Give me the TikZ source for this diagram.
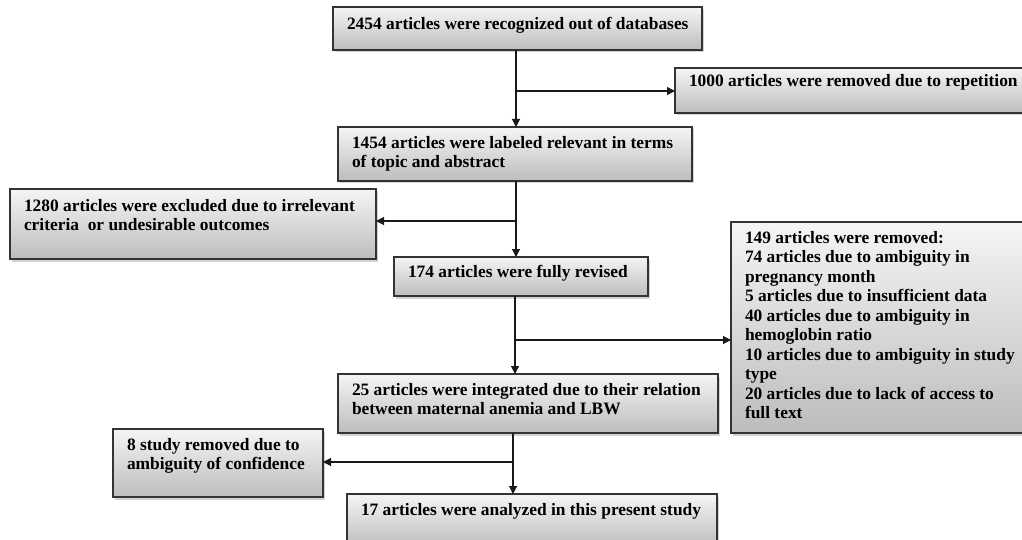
\documentclass[tikz,border=0pt]{standalone}
\usepackage{fontspec}
\setmainfont{Liberation Serif}
\usetikzlibrary{arrows.meta,shadows}
\tikzset{
  fbox/.style={draw=black!80, line width=1.3pt, top color=black!4, bottom color=black!26,
    drop shadow={opacity=0.35, shadow xshift=2pt, shadow yshift=-2.5pt},
    inner sep=0pt, outer sep=0pt, anchor=north west,
    font=\fontsize{17.4}{19.5}\selectfont\bfseries},
  conn/.style={draw=black!90, line width=1.1pt, -{Triangle[length=8pt,width=8pt]}}
}
\newcommand\flowbox[7]{%
  \node[fbox] (#1) at (#2,#3) {\parbox[c][\dimexpr#5pt-#3pt\relax][t]{\dimexpr#4pt-#2pt\relax}{%
    \leftskip=14pt\rightskip=0pt plus 1fil\parfillskip=0pt plus 1fil\relax
    \rule{0pt}{#6pt}#7}};}
\begin{document}
\begin{tikzpicture}[x=1pt,y=-1pt]
\useasboundingbox (0,0) rectangle (1022,540);
\flowbox{B1}{333}{7}{702}{50}{23}{2454 articles were recognized out of databases}
\flowbox{B2}{675}{68}{1032}{113}{19}{1000 articles were removed due to repetition}
\flowbox{B3}{338}{127}{692}{181}{21}{1454 articles were labeled relevant in terms\\of topic and abstract}
\flowbox{B4}{10}{189}{376}{259}{22}{1280 articles were excluded due to irrelevant\\criteria\ \ or undesirable outcomes}
\flowbox{B5}{394}{257}{648}{296}{20}{174 articles were fully revised}
\flowbox{B6}{731}{222}{1032}{433}{21}{149 articles were removed:\\74 articles due to ambiguity in\\pregnancy month\\5 articles due to insufficient data\\40 articles due to ambiguity in\\hemoglobin ratio\\10 articles due to ambiguity in study\\type\\20 articles due to lack of access to\\full text}
\flowbox{B7}{338}{374}{718}{433}{21}{25 articles were integrated due to their relation\\between maternal anemia and LBW}
\flowbox{B8}{113}{429}{323}{497}{21}{8 study removed due to\\ambiguity of confidence}
\flowbox{B9}{347}{494}{717}{548}{21}{17 articles were analyzed in this present study}
\coordinate (j1) at (516,91);
\coordinate (j2) at (516,221);
\coordinate (j3) at (515,340);
\coordinate (j4) at (513,462);
\draw[conn] (B1.south -| j1) -- (B3.north -| j1);
\draw[conn] (j1) -- (B2.west |- j1);
\draw[conn] (B3.south -| j2) -- (B5.north -| j2);
\draw[conn] (j2) -- (B4.east |- j2);
\draw[conn] (B5.south -| j3) -- (B7.north -| j3);
\draw[conn] (j3) -- (B6.west |- j3);
\draw[conn] (B7.south -| j4) -- (B9.north -| j4);
\draw[conn] (j4) -- (B8.east |- j4);
\end{tikzpicture}
\end{document}
